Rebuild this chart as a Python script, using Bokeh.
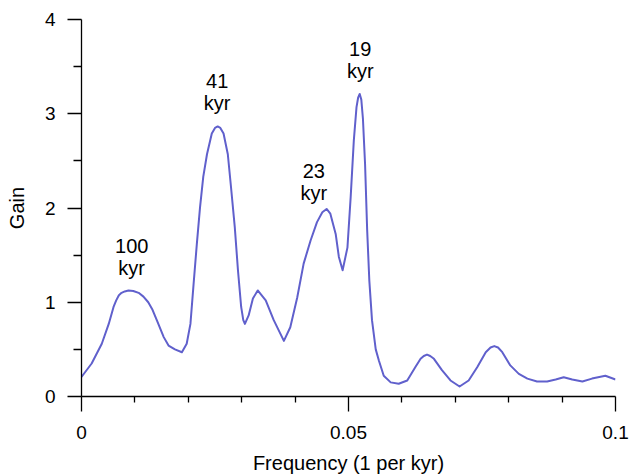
from bokeh.plotting import figure
from bokeh.models import Range1d, FixedTicker, ColumnDataSource
from bokeh.core.properties import value
from bokeh.embed import file_html
from bokeh.resources import INLINE

freq = [0.0000, 0.0001, 0.0019, 0.0038, 0.0051, 0.0060, 0.0065, 0.0070, 0.0075, 0.0081,
        0.0088, 0.0097, 0.0107, 0.0116, 0.0125, 0.0133, 0.0141, 0.0154, 0.0163, 0.0175,
        0.0188, 0.0197, 0.0204, 0.0210, 0.0216, 0.0222, 0.0228, 0.0235, 0.0244, 0.0250,
        0.0255, 0.0260, 0.0266, 0.0274, 0.0280, 0.0287, 0.0293, 0.0299, 0.0303, 0.0306,
        0.0313, 0.0321, 0.0330, 0.0345, 0.0360, 0.0379, 0.0391, 0.0404, 0.0416, 0.0429,
        0.0441, 0.0451, 0.0459, 0.0466, 0.0476, 0.0482, 0.0489, 0.0498, 0.0504, 0.0510,
        0.0515, 0.0518, 0.0521, 0.0524, 0.0527, 0.0531, 0.0535, 0.0539, 0.0544, 0.0551,
        0.0557, 0.0566, 0.0579, 0.0594, 0.0610, 0.0625, 0.0635, 0.0641, 0.0647, 0.0653,
        0.0660, 0.0675, 0.0691, 0.0708, 0.0725, 0.0741, 0.0757, 0.0766, 0.0773, 0.0780,
        0.0788, 0.0803, 0.0819, 0.0835, 0.0853, 0.0872, 0.0888, 0.0903, 0.0919, 0.0938,
        0.0956, 0.0981, 0.1000]
gain = [0.21, 0.215, 0.35, 0.56, 0.77, 0.95, 1.02, 1.075, 1.10, 1.115,
        1.125, 1.12, 1.10, 1.06, 1.00, 0.92, 0.81, 0.63, 0.54, 0.50,
        0.47, 0.56, 0.77, 1.20, 1.62, 2.01, 2.33, 2.57, 2.79, 2.85,
        2.865, 2.85, 2.79, 2.57, 2.22, 1.80, 1.34, 0.95, 0.81, 0.77,
        0.86, 1.04, 1.125, 1.02, 0.81, 0.59, 0.735, 1.05, 1.41, 1.655,
        1.85, 1.955, 1.99, 1.94, 1.725, 1.48, 1.34, 1.58, 2.11, 2.72,
        3.07, 3.17, 3.21, 3.15, 2.95, 2.47, 1.76, 1.23, 0.81, 0.50,
        0.38, 0.22, 0.15, 0.135, 0.17, 0.31, 0.40, 0.43, 0.445, 0.43,
        0.40, 0.28, 0.17, 0.106, 0.17, 0.31, 0.47, 0.52, 0.535, 0.52,
        0.47, 0.33, 0.24, 0.19, 0.16, 0.16, 0.18, 0.205, 0.18, 0.16,
        0.19, 0.22, 0.18]

peak_labels = ["100\nkyr", "41\nkyr", "23\nkyr", "19\nkyr"]
peak_label_x = [0.0094, 0.0254, 0.0435, 0.0522]
peak_label_y = [1.48, 3.23, 2.28, 3.57]

x_ticks = [0, 0.05, 0.1]
x_tick_labels = {0: "0", 0.05: "0.05", 0.1: "0.1"}
x_minor = [0.01, 0.02, 0.03, 0.04, 0.06, 0.07, 0.08, 0.09]
y_ticks = [0, 1, 2, 3, 4]
y_minor = [0.5, 1.5, 2.5, 3.5]

FONT = "Liberation Sans"

p = figure(width=630, height=476, output_backend="svg", toolbar_location=None,
           x_range=Range1d(0, 0.1), y_range=Range1d(0, 4),
           min_border_left=81, min_border_right=15, min_border_top=19, min_border_bottom=80)
p.outline_line_color = None
p.xgrid.visible = False
p.ygrid.visible = False
p.background_fill_color = "white"
p.border_fill_color = "white"

p.line(freq, gain, line_color="#6060cc", line_width=2, line_join="round")

src = ColumnDataSource(dict(x=peak_label_x, y=peak_label_y, t=peak_labels))
p.text(x="x", y="y", text="t", source=src, text_align="center", text_baseline="middle",
       text_font=value(FONT), text_font_size="20px", text_color="black", text_line_height=1.0)

xa = p.xaxis[0]
xa.ticker = FixedTicker(ticks=x_ticks, minor_ticks=x_minor)
xa.major_label_overrides = x_tick_labels
xa.axis_label = "Frequency (1 per kyr)"
ya = p.yaxis[0]
ya.ticker = FixedTicker(ticks=y_ticks, minor_ticks=y_minor)
ya.axis_label = "Gain"

for ax in (xa, ya):
    ax.axis_line_color = "black"
    ax.axis_line_width = 1.3
    ax.major_tick_line_color = "black"
    ax.minor_tick_line_color = "black"
    ax.major_tick_line_width = 1.3
    ax.minor_tick_line_width = 1.3
    ax.major_tick_in = 0
    ax.minor_tick_in = 0
    ax.major_label_text_font = FONT
    ax.major_label_text_font_size = "19px"
    ax.major_label_text_color = "black"
    ax.axis_label_text_font = FONT
    ax.axis_label_text_font_size = "20px"
    ax.axis_label_text_font_style = "normal"
    ax.axis_label_text_color = "black"

xa.major_tick_out = 15
xa.minor_tick_out = 6
xa.major_label_standoff = 14
xa.axis_label_standoff = 10
ya.major_tick_out = 14
ya.minor_tick_out = 8
ya.major_label_standoff = 12
ya.axis_label_standoff = 14

open("out.html", "w").write(file_html(p, INLINE))
